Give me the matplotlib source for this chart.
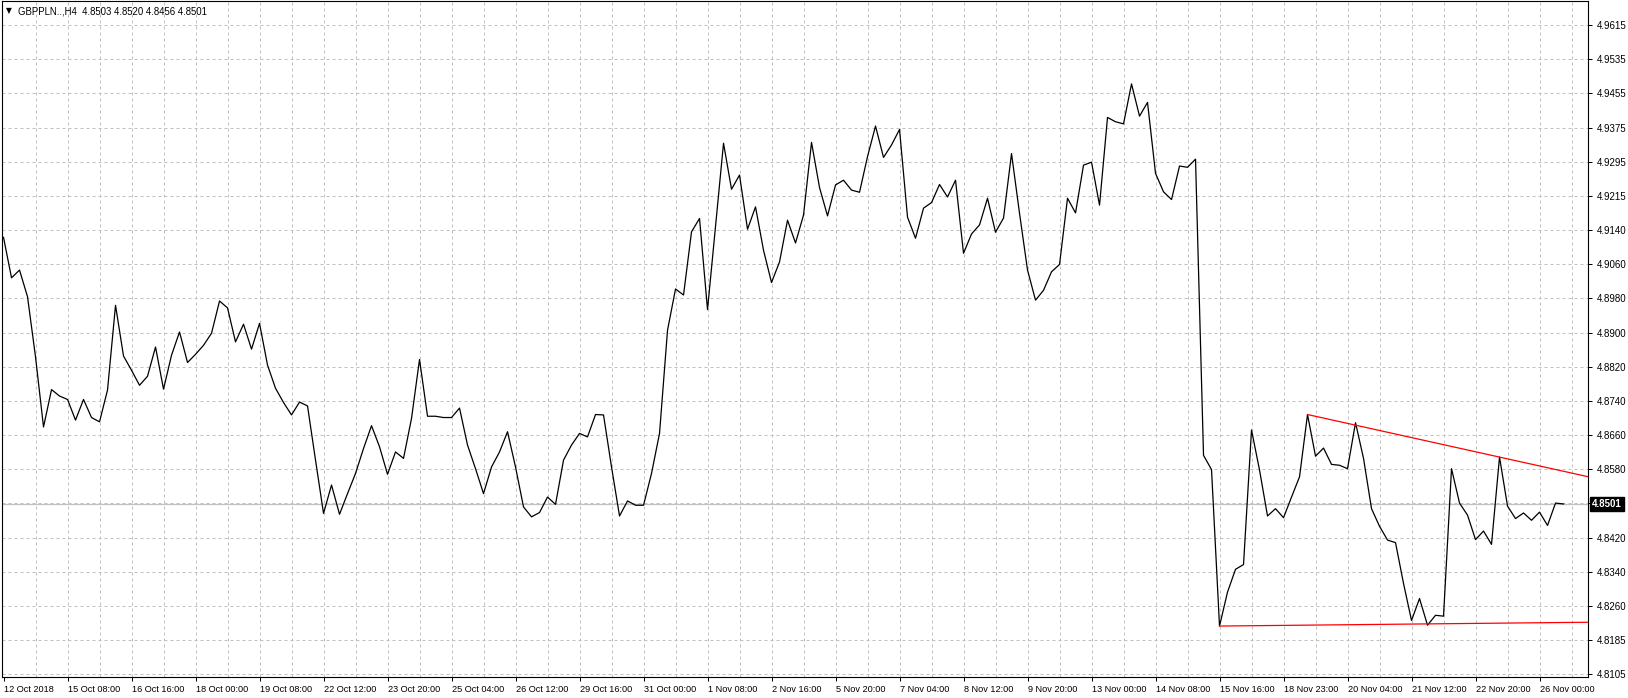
import matplotlib
matplotlib.use('Agg')
import matplotlib.pyplot as plt
import numpy as np

# GBPPLN H4 closes, one value per bar (12 Oct 2018 -> 26 Nov 2018)
close = [
    4.9121, 4.9027, 4.9045, 4.8983, 4.8843, 4.8680, 4.8767, 4.8752, 4.8744, 4.8696,
    4.8744, 4.8702, 4.8692, 4.8766, 4.8963, 4.8845, 4.8812, 4.8777, 4.8798, 4.8866,
    4.8768, 4.8847, 4.8901, 4.8830, 4.8849, 4.8870, 4.8898, 4.8973, 4.8957, 4.8878,
    4.8919, 4.8861, 4.8921, 4.8824, 4.8770, 4.8737, 4.8708, 4.8738, 4.8729, 4.8603,
    4.8479, 4.8545, 4.8477, 4.8525, 4.8572, 4.8630, 4.8683, 4.8634, 4.8570, 4.8622,
    4.8607, 4.8700, 4.8837, 4.8705, 4.8705, 4.8702, 4.8702, 4.8724, 4.8638, 4.8583,
    4.8525, 4.8587, 4.8622, 4.8669, 4.8587, 4.8494, 4.8471, 4.8481, 4.8517, 4.8500,
    4.8603, 4.8638, 4.8665, 4.8657, 4.8709, 4.8708, 4.8587, 4.8473, 4.8508, 4.8498,
    4.8498, 4.8572, 4.8665, 4.8905, 4.9001, 4.8987, 4.9134, 4.9165, 4.8953, 4.9146,
    4.9340, 4.9233, 4.9266, 4.9140, 4.9192, 4.9091, 4.9016, 4.9064, 4.9161, 4.9108,
    4.9173, 4.9342, 4.9237, 4.9171, 4.9243, 4.9254, 4.9231, 4.9226, 4.9309, 4.9380,
    4.9307, 4.9336, 4.9372, 4.9168, 4.9119, 4.9189, 4.9202, 4.9244, 4.9215, 4.9254,
    4.9084, 4.9129, 4.9150, 4.9212, 4.9133, 4.9166, 4.9316, 4.9177, 4.9045, 4.8975,
    4.8998, 4.9041, 4.9058, 4.9212, 4.9178, 4.9289, 4.9296, 4.9196, 4.9400, 4.9390,
    4.9385, 4.9478, 4.9403, 4.9435, 4.9270, 4.9227, 4.9209, 4.9287, 4.9284, 4.9303,
    4.8614, 4.8581, 4.8217, 4.8296, 4.8349, 4.8360, 4.8673, 4.8580, 4.8473, 4.8490,
    4.8469, 4.8517, 4.8564, 4.8709, 4.8612, 4.8631, 4.8593, 4.8591, 4.8583, 4.8690,
    4.8607, 4.8490, 4.8449, 4.8417, 4.8411, 4.8316, 4.8230, 4.8281, 4.8219, 4.8242,
    4.8240, 4.8583, 4.8503, 4.8475, 4.8418, 4.8438, 4.8407, 4.8610, 4.8496, 4.8467,
    4.8480, 4.8463, 4.8482, 4.8451, 4.8503, 4.8501,
]

# one time label every 8 bars
date_labels = ['12 Oct 2018', '15 Oct 08:00', '16 Oct 16:00', '18 Oct 00:00',
               '19 Oct 08:00', '22 Oct 12:00', '23 Oct 20:00', '25 Oct 04:00',
               '26 Oct 12:00', '29 Oct 16:00', '31 Oct 00:00', '1 Nov 08:00',
               '2 Nov 16:00', '5 Nov 20:00', '7 Nov 04:00', '8 Nov 12:00',
               '9 Nov 20:00', '13 Nov 00:00', '14 Nov 08:00', '15 Nov 16:00',
               '18 Nov 23:00', '20 Nov 04:00', '21 Nov 12:00', '22 Nov 20:00',
               '26 Nov 00:00']

# price scale labels, bottom to top (4.8500 is hidden behind the price box)
price_labels = ['4.8105', '4.8185', '4.8260', '4.8340', '4.8420', '',
                '4.8580', '4.8660', '4.8740', '4.8820', '4.8900', '4.8980',
                '4.9060', '4.9140', '4.9215', '4.9295', '4.9375', '4.9455',
                '4.9535', '4.9615']
price_bottom = 4.8105
price_top = 4.9615

last_price = 4.8501
title_text = 'GBPPLN..,H4  4.8503 4.8520 4.8456 4.8501'

# trend lines: (bar, price) anchors, drawn as rays to the right
upper_trend = [(163, 4.8709), (187, 4.8610)]
lower_trend = [(152, 4.8217), (178, 4.8222)]

plt.rcParams['font.family'] = ['Liberation Sans', 'DejaVu Sans']

W, H = 1628, 698
fig = plt.figure(figsize=(W / 100, H / 100), dpi=100)
ax = fig.add_axes([2 / W, 1 - 677 / H, 1586 / W, 676 / H])

x = np.arange(len(close))
ax.plot(x, close, color='black', lw=0.9, zorder=3)

# trend lines
x_right = 198.06
for pts in [upper_trend, lower_trend]:
    (b0, p0), (b1, p1) = pts
    slope = (p1 - p0) / (b1 - b0)
    ax.plot([b0, x_right], [p0, p0 + slope * (x_right - b0)], color='red', lw=0.9, zorder=4)

# current price line
ax.axhline(last_price, color='#c0c0c0', lw=0.9, zorder=2)

levels = np.linspace(price_bottom, price_top, len(price_labels))
step = levels[1] - levels[0]
ax.set_ylim(price_bottom - step * 2.8 / 34.16, price_top + step * 24 / 34.16)
ax.set_xlim(-0.19, x_right)

# grid
for v in levels:
    ax.axhline(v, color='#c0c0c0', lw=0.72, dashes=(3, 3), zorder=1)
for b in range(4, 200, 4):
    ax.axvline(b, color='#c0c0c0', lw=0.72, dashes=(3, 3), zorder=1)

ax.yaxis.tick_right()
ax.set_yticks(levels)
ax.set_yticklabels(price_labels)
ax.set_xticks(np.arange(0, 8 * len(date_labels), 8))
ax.set_xticklabels(date_labels)
for lbl in ax.get_xticklabels():
    lbl.set_ha('left')
ax.tick_params(axis='both', direction='out', length=3, width=0.72, colors='black')
ax.tick_params(axis='x', pad=3, labelsize=6.6)
ax.tick_params(axis='y', pad=3, labelsize=7)

for s in ax.spines.values():
    s.set_linewidth(0.8)
    s.set_color('black')

# price box on the right scale
ax.text(1.0 + 4 / 1586, last_price, '4.8501', transform=ax.get_yaxis_transform(),
        color='white', fontsize=7, fontweight='bold', va='center', ha='left', zorder=5,
        bbox=dict(facecolor='black', edgecolor='black', boxstyle='square,pad=0.25'))

# symbol header
fig.text(6 / W, 1 - 11 / H, '\u25bc', fontsize=5.5, va='center', ha='left', family='DejaVu Sans')
fig.text(18 / W, 1 - 11 / H, title_text, fontsize=6.9, va='center', ha='left')

fig.savefig('out.png', dpi=100, facecolor='white')
